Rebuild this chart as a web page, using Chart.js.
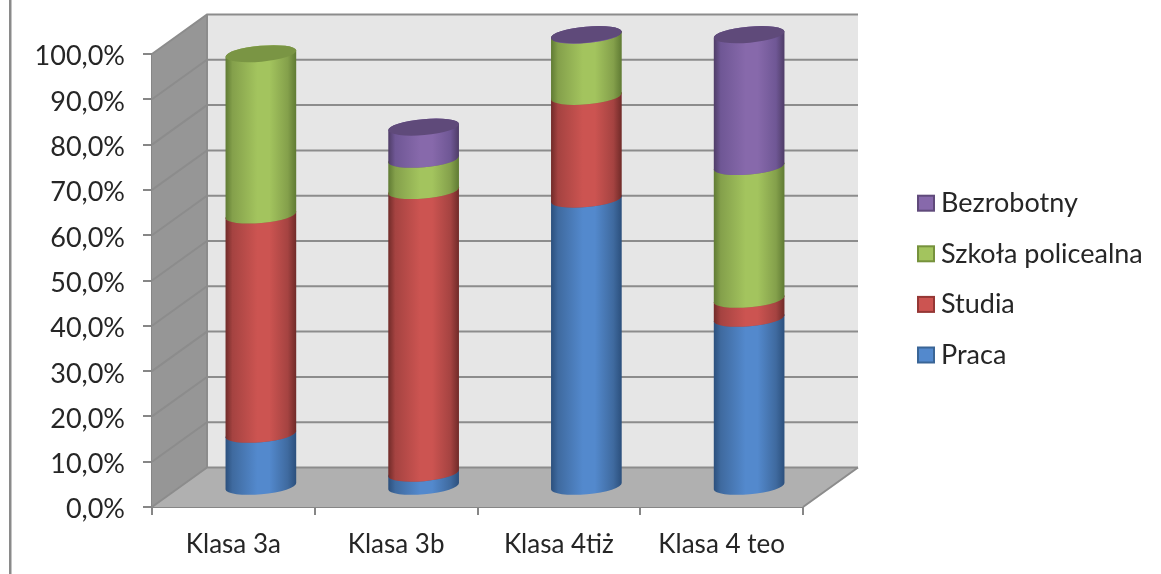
<!DOCTYPE html>
<html>
<head>
<meta charset="utf-8">
<title>Klasy</title>
<script src="https://cdn.jsdelivr.net/npm/chart.js@4"></script>
<style>
  body { margin: 0; background: #fff; }
  canvas { display: block; }
</style>
</head>
<body>
<canvas id="chart" width="1161" height="574"></canvas>
<script>
const categories = ["Klasa 3a", "Klasa 3b", "Klasa 4tiż", "Klasa 4 teo"];
const seriesNames = ["Praca", "Studia", "Szkoła policealna", "Bezrobotny"];
const praca = [11.7, 3.1, 63.6, 37.3];
const studia = [48.4, 62.4, 22.7, 4.2];
const policealna = [35.6, 6.9, 13.5, 29.3];
const bezrobotny = [0, 7.1, 0.1, 29.1];

// mid colour, edge colour, soft edge colour, top cap colour, legend border
const colors = [
  ["#5389cd", "#2b4f7c", "#3f6a9f", "#3f6797", "#3a6596"],
  ["#cc5451", "#6f2a28", "#a54341", "#9a403e", "#953735"],
  ["#a3c45e", "#5f7a33", "#84a04b", "#7a9544", "#76923c"],
  ["#8769ab", "#4e3c66", "#6f5795", "#5f4a7a", "#604a7b"]
];

const depthX = 55;
const depthY = -39.5;
const font = "Lato, Carlito, 'Open Sans', sans-serif";

// Walls, floor and grid of the 3D box
function drawBox(chart) {
  const ctx = chart.ctx;
  const a = chart.chartArea;
  const y = chart.scales.y;

  function poly(points, fill) {
    ctx.beginPath();
    points.forEach((p, i) => i ? ctx.lineTo(p[0], p[1]) : ctx.moveTo(p[0], p[1]));
    ctx.closePath();
    ctx.fillStyle = fill;
    ctx.fill();
  }

  poly([[a.left + depthX, a.top + depthY], [a.right + depthX, a.top + depthY], [a.right + depthX, a.bottom + depthY], [a.left + depthX, a.bottom + depthY]], "#e6e6e6");
  poly([[a.left, a.top], [a.left + depthX, a.top + depthY], [a.left + depthX, a.bottom + depthY], [a.left, a.bottom]], "#969696");
  poly([[a.left, a.bottom], [a.left + depthX, a.bottom + depthY], [a.right + depthX, a.bottom + depthY], [a.right, a.bottom]], "#b0b0b0");

  ctx.strokeStyle = "#8c8c8c";
  ctx.lineWidth = 2;
  y.ticks.forEach(t => {
    const py = y.getPixelForValue(t.value);
    ctx.beginPath();
    ctx.moveTo(a.left, py);
    ctx.lineTo(a.left + depthX, py + depthY);
    ctx.lineTo(a.right + depthX, py + depthY);
    ctx.stroke();
  });
  ctx.beginPath();
  ctx.moveTo(a.right, a.bottom);
  ctx.lineTo(a.right + depthX, a.bottom + depthY);
  ctx.moveTo(a.left + depthX, a.top + depthY);
  ctx.lineTo(a.left + depthX, a.bottom + depthY);
  ctx.stroke();
}

// One stacked segment as a cylinder piece, from the bar element's own position
function drawCylinder(ctx, bar, c) {
  const tilt = -0.09;
  const ry = 8;
  const rx = bar.width / 2;
  const cx = bar.x + depthX / 2;
  const top = bar.y + depthY / 2;
  const base = bar.base + depthY / 2;

  const grad = ctx.createLinearGradient(cx - rx, 0, cx + rx, 0);
  grad.addColorStop(0, c[1]);
  grad.addColorStop(0.1, c[2]);
  grad.addColorStop(0.45, c[0]);
  grad.addColorStop(0.62, c[0]);
  grad.addColorStop(0.88, c[2]);
  grad.addColorStop(1, c[1]);

  ctx.beginPath();
  ctx.ellipse(cx, base, rx, ry, tilt, 0, Math.PI);
  ctx.ellipse(cx, top, rx, ry, tilt, Math.PI, 2 * Math.PI);
  ctx.closePath();
  ctx.fillStyle = grad;
  ctx.fill();

  ctx.beginPath();
  ctx.ellipse(cx, top, rx, ry, tilt, 0, 2 * Math.PI);
  ctx.fillStyle = c[3];
  ctx.fill();
}

const cylinders = {
  id: "cylinders",
  beforeDatasetsDraw(chart) {
    drawBox(chart);
    // bottom series first, each upper piece covers the cap below it
    chart.data.datasets.forEach((ds, i) => {
      chart.getDatasetMeta(i).data.forEach((bar, j) => {
        if (ds.data[j] > 0) drawCylinder(chart.ctx, bar, colors[i]);
      });
    });
    return false;
  },
  afterDraw(chart) {
    const ctx = chart.ctx;
    // frame line on the left
    ctx.fillStyle = "#8a8a8a";
    ctx.fillRect(9, 0, 2.5, 574);
    // legend, last series on top
    ctx.font = "27px " + font;
    ctx.textBaseline = "middle";
    ctx.textAlign = "left";
    seriesNames.forEach((name, i) => {
      const ly = 355 - i * 50.6;
      ctx.fillStyle = colors[i][0];
      ctx.strokeStyle = colors[i][4];
      ctx.lineWidth = 2;
      ctx.fillRect(918, ly - 7.5, 16, 15);
      ctx.strokeRect(918, ly - 7.5, 16, 15);
      ctx.fillStyle = "#262626";
      ctx.fillText(name, 941, ly);
    });
  }
};

new Chart(document.getElementById("chart"), {
  type: "bar",
  plugins: [cylinders],
  data: {
    labels: categories,
    datasets: [
      { label: seriesNames[0], data: praca },
      { label: seriesNames[1], data: studia },
      { label: seriesNames[2], data: policealna },
      { label: seriesNames[3], data: bezrobotny }
    ]
  },
  options: {
    responsive: false,
    animation: false,
    devicePixelRatio: 1,
    layout: { padding: { top: 54, right: 358 } },
    plugins: { legend: { display: false }, tooltip: { enabled: false } },
    datasets: { bar: { categoryPercentage: 1, barPercentage: 0.436 } },
    scales: {
      x: {
        stacked: true,
        afterFit: s => { s.height = 67; },
        grid: { drawOnChartArea: false, color: "#868686", lineWidth: 2, tickLength: 8 },
        border: { color: "#868686", width: 2 },
        ticks: { color: "#262626", font: { family: font, size: 26 }, padding: 14, maxRotation: 0 }
      },
      y: {
        stacked: true,
        min: 0,
        max: 100,
        afterFit: s => { s.width = 152; },
        grid: { drawOnChartArea: false, color: "#868686", lineWidth: 2, tickLength: 9 },
        border: { color: "#868686", width: 2 },
        ticks: {
          stepSize: 10,
          color: "#262626",
          font: { family: font, size: 27, lineHeight: 0.2 },
          padding: 18,
          // blank first line nudges the label a little below its tick
          callback: v => ["", v.toFixed(1).replace(".", ",") + "%"]
        }
      }
    }
  }
});
</script>
</body>
</html>
